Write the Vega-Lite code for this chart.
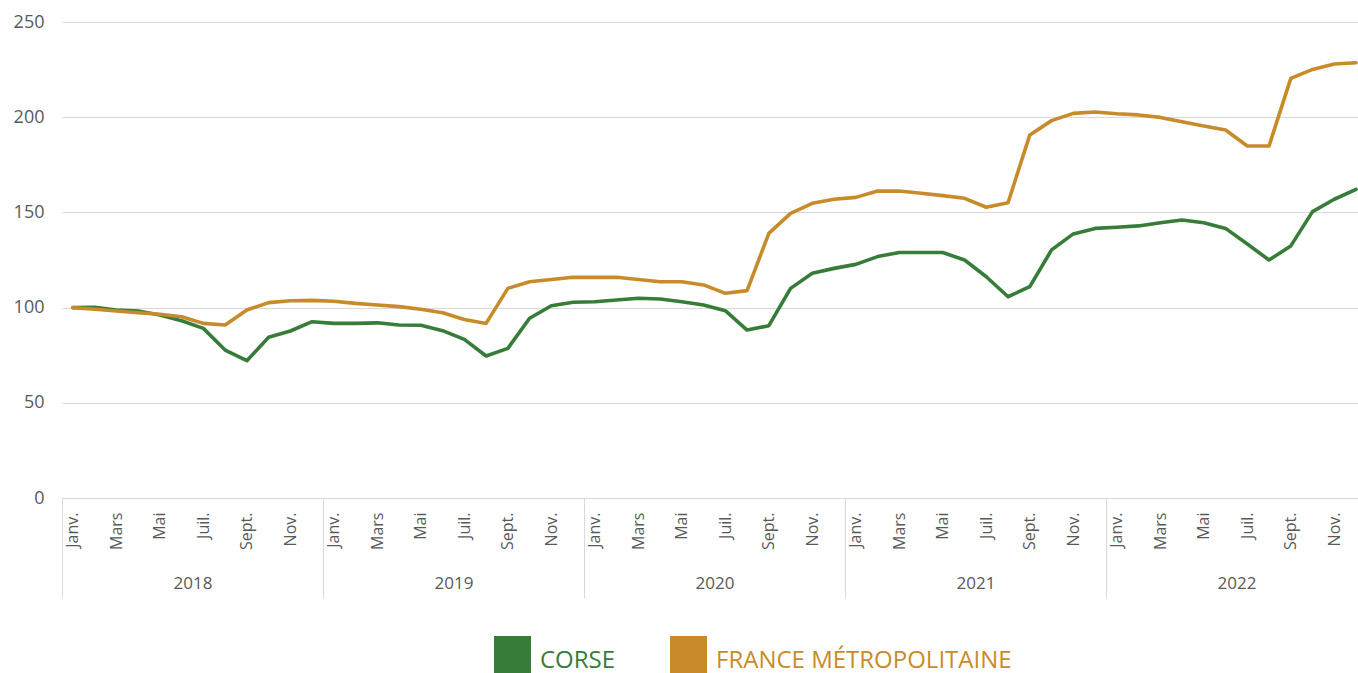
{
  "$schema": "https://vega.github.io/schema/vega-lite/v6.json",
  "autosize": {"type": "none"},
  "width": 1296,
  "height": 476,
  "padding": {"left": 62, "top": 22, "right": 0, "bottom": 175},
  "background": "white",
  "config": {
    "view": {"stroke": null},
    "font": "Open Sans",
    "axis": {"labelFont": "Open Sans", "labelColor": "#595959"}
  },
  "data": {
    "values": [
      {"t":0,"CORSE":100,"FRANCE MÉTROPOLITAINE":100},
      {"t":1,"CORSE":100.2,"FRANCE MÉTROPOLITAINE":99.1},
      {"t":2,"CORSE":98.7,"FRANCE MÉTROPOLITAINE":98.2},
      {"t":3,"CORSE":98.2,"FRANCE MÉTROPOLITAINE":97.3},
      {"t":4,"CORSE":96.1,"FRANCE MÉTROPOLITAINE":96.5},
      {"t":5,"CORSE":93.1,"FRANCE MÉTROPOLITAINE":95.2},
      {"t":6,"CORSE":89.1,"FRANCE MÉTROPOLITAINE":91.7},
      {"t":7,"CORSE":77.7,"FRANCE MÉTROPOLITAINE":90.9},
      {"t":8,"CORSE":72.1,"FRANCE MÉTROPOLITAINE":98.7},
      {"t":9,"CORSE":84.4,"FRANCE MÉTROPOLITAINE":102.6},
      {"t":10,"CORSE":87.7,"FRANCE MÉTROPOLITAINE":103.6},
      {"t":11,"CORSE":92.6,"FRANCE MÉTROPOLITAINE":103.8},
      {"t":12,"CORSE":91.7,"FRANCE MÉTROPOLITAINE":103.3},
      {"t":13,"CORSE":91.7,"FRANCE MÉTROPOLITAINE":102.2},
      {"t":14,"CORSE":92.0,"FRANCE MÉTROPOLITAINE":101.4},
      {"t":15,"CORSE":90.9,"FRANCE MÉTROPOLITAINE":100.5},
      {"t":16,"CORSE":90.7,"FRANCE MÉTROPOLITAINE":99.1},
      {"t":17,"CORSE":87.9,"FRANCE MÉTROPOLITAINE":97.3},
      {"t":18,"CORSE":83.3,"FRANCE MÉTROPOLITAINE":93.8},
      {"t":19,"CORSE":74.6,"FRANCE MÉTROPOLITAINE":91.7},
      {"t":20,"CORSE":78.6,"FRANCE MÉTROPOLITAINE":110.1},
      {"t":21,"CORSE":94.4,"FRANCE MÉTROPOLITAINE":113.6},
      {"t":22,"CORSE":101.0,"FRANCE MÉTROPOLITAINE":114.8},
      {"t":23,"CORSE":102.8,"FRANCE MÉTROPOLITAINE":115.9},
      {"t":24,"CORSE":103.1,"FRANCE MÉTROPOLITAINE":115.9},
      {"t":25,"CORSE":104.0,"FRANCE MÉTROPOLITAINE":115.9},
      {"t":26,"CORSE":104.9,"FRANCE MÉTROPOLITAINE":114.8},
      {"t":27,"CORSE":104.5,"FRANCE MÉTROPOLITAINE":113.6},
      {"t":28,"CORSE":103.1,"FRANCE MÉTROPOLITAINE":113.6},
      {"t":29,"CORSE":101.4,"FRANCE MÉTROPOLITAINE":111.9},
      {"t":30,"CORSE":98.4,"FRANCE MÉTROPOLITAINE":107.5},
      {"t":31,"CORSE":88.2,"FRANCE MÉTROPOLITAINE":108.9},
      {"t":32,"CORSE":90.5,"FRANCE MÉTROPOLITAINE":139.0},
      {"t":33,"CORSE":110.1,"FRANCE MÉTROPOLITAINE":149.5},
      {"t":34,"CORSE":118.0,"FRANCE MÉTROPOLITAINE":154.8},
      {"t":35,"CORSE":120.6,"FRANCE MÉTROPOLITAINE":156.9},
      {"t":36,"CORSE":122.7,"FRANCE MÉTROPOLITAINE":157.9},
      {"t":37,"CORSE":126.8,"FRANCE MÉTROPOLITAINE":161.2},
      {"t":38,"CORSE":128.9,"FRANCE MÉTROPOLITAINE":161.2},
      {"t":39,"CORSE":128.9,"FRANCE MÉTROPOLITAINE":160.1},
      {"t":40,"CORSE":128.9,"FRANCE MÉTROPOLITAINE":158.8},
      {"t":41,"CORSE":125.0,"FRANCE MÉTROPOLITAINE":157.4},
      {"t":42,"CORSE":116.2,"FRANCE MÉTROPOLITAINE":152.7},
      {"t":43,"CORSE":105.7,"FRANCE MÉTROPOLITAINE":155.1},
      {"t":44,"CORSE":111.0,"FRANCE MÉTROPOLITAINE":190.7},
      {"t":45,"CORSE":130.3,"FRANCE MÉTROPOLITAINE":198.2},
      {"t":46,"CORSE":138.7,"FRANCE MÉTROPOLITAINE":202.0},
      {"t":47,"CORSE":141.6,"FRANCE MÉTROPOLITAINE":202.7},
      {"t":48,"CORSE":142.2,"FRANCE MÉTROPOLITAINE":201.8},
      {"t":49,"CORSE":142.9,"FRANCE MÉTROPOLITAINE":201.2},
      {"t":50,"CORSE":144.6,"FRANCE MÉTROPOLITAINE":199.9},
      {"t":51,"CORSE":146.0,"FRANCE MÉTROPOLITAINE":197.6},
      {"t":52,"CORSE":144.6,"FRANCE MÉTROPOLITAINE":195.4},
      {"t":53,"CORSE":141.6,"FRANCE MÉTROPOLITAINE":193.3},
      {"t":54,"CORSE":133.4,"FRANCE MÉTROPOLITAINE":184.9},
      {"t":55,"CORSE":125.0,"FRANCE MÉTROPOLITAINE":184.9},
      {"t":56,"CORSE":132.4,"FRANCE MÉTROPOLITAINE":220.4},
      {"t":57,"CORSE":150.4,"FRANCE MÉTROPOLITAINE":225.1},
      {"t":58,"CORSE":156.9,"FRANCE MÉTROPOLITAINE":227.9},
      {"t":59,"CORSE":162.1,"FRANCE MÉTROPOLITAINE":228.6}
    ]
  },
  "transform": [
    {"fold": ["CORSE", "FRANCE MÉTROPOLITAINE"], "as": ["serie", "valeur"]}
  ],
  "resolve": {"axis": {"x": "independent"}},
  "layer": [
    {
      "mark": {"type": "line", "strokeWidth": 3.6, "strokeJoin": "round", "strokeCap": "round"},
      "encoding": {
        "x": {
          "field": "t", "type": "quantitative",
          "scale": {"domain": [-0.5, 59.09], "nice": false, "zero": false},
          "axis": {
            "orient": "bottom",
            "title": null,
            "values": [0,2,4,6,8,10,12,14,16,18,20,22,24,26,28,30,32,34,36,38,40,42,44,46,48,50,52,54,56,58],
            "labelExpr": "['Janv.','Févr.','Mars','Avr.','Mai','Juin','Juil.','Août','Sept.','Oct.','Nov.','Déc.'][datum.value % 12]",
            "labelAngle": 270,
            "labelAlign": "right",
            "labelBaseline": "middle",
            "labelFontSize": 16,
            "labelPadding": 14,
            "labelOverlap": false,
            "labelBound": false,
            "labelFlush": false,
            "ticks": false,
            "grid": false,
            "domainColor": "#d9d9d9",
            "domainWidth": 1
          }
        },
        "y": {
          "field": "valeur", "type": "quantitative",
          "scale": {"domain": [0, 250], "nice": false},
          "axis": {
            "title": null,
            "values": [0, 50, 100, 150, 200, 250],
            "ticks": false,
            "domain": false,
            "gridColor": "#d9d9d9",
            "gridWidth": 1,
            "labelFontSize": 18,
            "labelPadding": 18
          }
        },
        "color": {
          "field": "serie", "type": "nominal",
          "scale": {"domain": ["CORSE", "FRANCE MÉTROPOLITAINE"], "range": ["#387C3A", "#C88B2B"]},
          "legend": {
            "title": null,
            "orient": "none",
            "direction": "horizontal",
            "legendX": 432,
            "legendY": 614,
            "padding": 0,
            "symbolType": "square",
            "symbolSize": 1369,
            "symbolStrokeWidth": 0,
            "labelFontSize": 24,
            "labelFont": "Open Sans",
            "labelLimit": 600,
            "labelOffset": 9,
            "columnPadding": 54,
            "encode": {
              "symbols": {"update": {"fill": {"signal": "scale('color', datum.value)"}, "strokeWidth": {"value": 0}, "opacity": {"value": 1}}},
              "labels": {"update": {"fill": {"signal": "scale('color', datum.value)"}, "dy": {"value": 6}}}
            }
          }
        }
      }
    },
    {
      "mark": {"type": "point", "opacity": 0},
      "encoding": {
        "x": {
          "field": "t", "type": "quantitative",
          "axis": {
            "orient": "bottom",
            "title": null,
            "values": [-0.5, 11.5, 23.5, 35.5, 47.5],
            "labelExpr": "'' + (2018 + round((datum.value + 0.5) / 12))",
            "labelOffset": 130.5,
            "labelAngle": 0,
            "labelAlign": "center",
            "labelBaseline": "top",
            "labelFontSize": 17,
            "labelPadding": -23,
            "labelOverlap": false,
            "labelBound": false,
            "labelFlush": false,
            "tickSize": 100,
            "tickColor": "#d9d9d9",
            "tickWidth": 1,
            "domain": false,
            "grid": false
          }
        },
        "y": {"field": "valeur", "type": "quantitative"}
      }
    }
  ]
}
